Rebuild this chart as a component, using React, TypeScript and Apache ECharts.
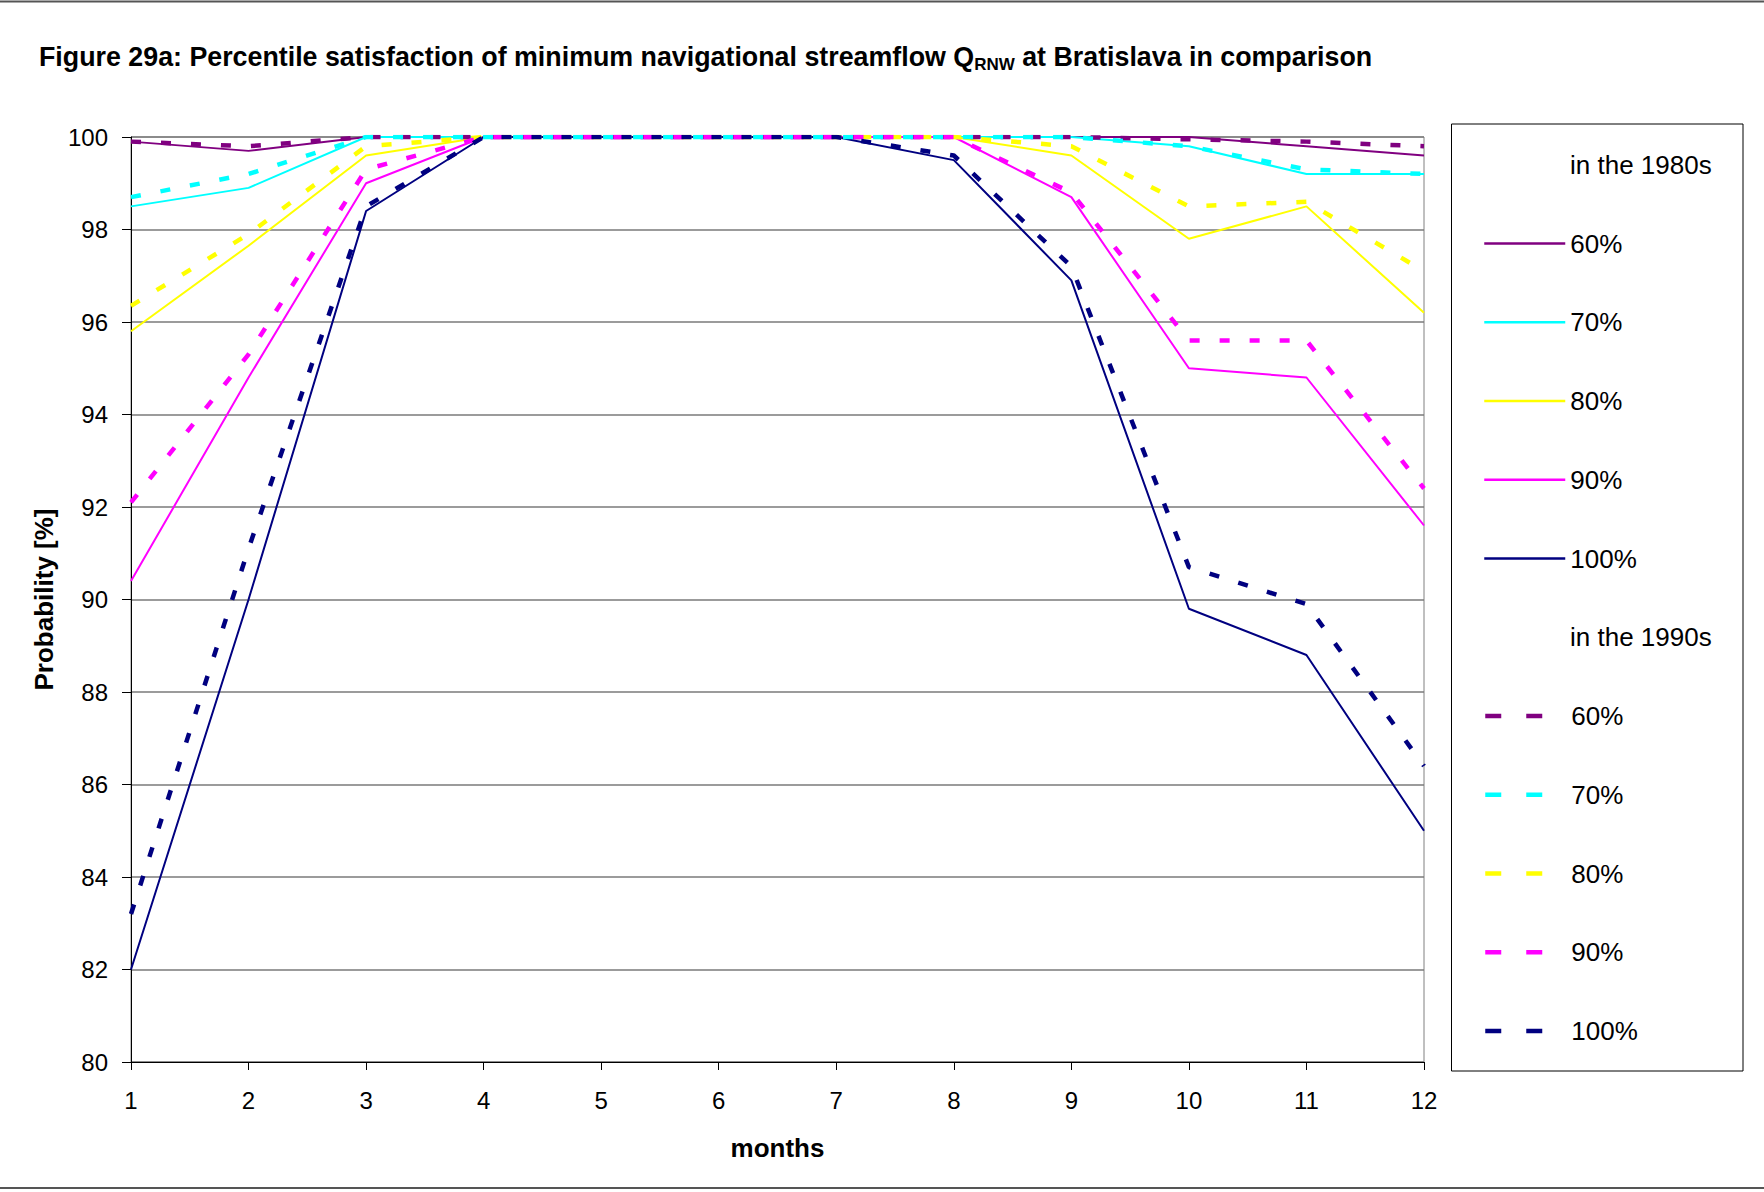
import React, { useEffect, useRef } from "react";
import * as echarts from "echarts";

const months = [1, 2, 3, 4, 5, 6, 7, 8, 9, 10, 11, 12];
const yTicks = { min: 80, max: 100, interval: 2 };

// 1980s (solid lines)
const s80_60 = [99.9, 99.7, 100, 100, 100, 100, 100, 100, 100, 100, 99.8, 99.6];
const s80_70 = [98.5, 98.9, 100, 100, 100, 100, 100, 100, 100, 99.8, 99.2, 99.2];
const s80_80 = [95.8, 97.65, 99.6, 100, 100, 100, 100, 100, 99.6, 97.8, 98.5, 96.2];
const s80_90 = [90.4, 94.8, 99.0, 100, 100, 100, 100, 100, 98.7, 95.0, 94.8, 91.6];
const s80_100 = [82.0, 90.0, 98.4, 100, 100, 100, 100, 99.5, 96.9, 89.8, 88.8, 85.0];

// 1990s (dashed lines)
const s90_60 = [99.9, 99.8, 100, 100, 100, 100, 100, 100, 100, 99.95, 99.9, 99.8];
const s90_70 = [98.7, 99.2, 100, 100, 100, 100, 100, 100, 100, 99.8, 99.3, 99.2];
const s90_80 = [96.35, 97.9, 99.8, 100, 100, 100, 100, 100, 99.8, 98.5, 98.6, 97.1];
const s90_90 = [92.1, 95.3, 99.3, 100, 100, 100, 100, 100, 98.8, 95.6, 95.6, 92.4];
const s90_100 = [83.2, 91.1, 98.5, 100, 100, 100, 100, 99.6, 97.2, 90.7, 89.9, 86.4];

const labels = ["60%", "70%", "80%", "90%", "100%"];
const colors = ["#800080", "#00FFFF", "#FFFF00", "#FF00FF", "#000080"];
const data80s = [s80_60, s80_70, s80_80, s80_90, s80_100];
const data90s = [s90_60, s90_70, s90_80, s90_90, s90_100];

const FONT = "'Liberation Sans', Arial, sans-serif";

export default function App() {
  const ref = useRef<HTMLDivElement>(null);
  useEffect(() => {
    document.body.style.margin = "0";
    if (!ref.current) return;
    const chart = echarts.init(ref.current, null, { renderer: "svg" });

    const mk = (vals: number[]) => vals.map((v, i) => [months[i], v]);
    const series: any[] = [];
    labels.forEach((l, i) => {
      series.push({
        name: l + " 1980s",
        type: "line",
        data: mk(data80s[i]),
        symbol: "none",
        color: colors[i],
        lineStyle: { color: colors[i], width: 2, type: "solid" },
        z: 2,
      });
    });
    labels.forEach((l, i) => {
      series.push({
        name: l + " 1990s",
        type: "line",
        data: mk(data90s[i]),
        symbol: "none",
        color: colors[i],
        lineStyle: { color: colors[i], width: 4.5, type: [10, 20] },
        z: 3,
      });
    });

    const legendCommon = {
      orient: "vertical",
      left: 1478,
      itemWidth: 81,
      itemHeight: 26,
      itemGap: 52.75,
      itemStyle: { opacity: 0 },
      formatter: (n: string) => n.split(" ")[0],
      textStyle: { fontSize: 26, lineHeight: 26, color: "#000", fontFamily: FONT },
      selectedMode: false,
    };

    chart.setOption({
      animation: false,
      backgroundColor: "#fff",
      textStyle: { fontFamily: FONT },
      grid: {
        left: 131,
        right: 340,
        top: 137,
        bottom: 130,
        show: true,
        borderColor: "#808080",
        borderWidth: 1,
      },
      xAxis: {
        type: "value",
        min: 1,
        max: 12,
        interval: 1,
        name: "months",
        nameLocation: "middle",
        nameGap: 73,
        nameTextStyle: { fontSize: 26, fontWeight: "bold", color: "#000", fontFamily: FONT },
        axisLine: { show: true, lineStyle: { color: "#000", width: 1 } },
        axisTick: { show: true, length: 8, lineStyle: { color: "#000" } },
        axisLabel: { fontSize: 24, color: "#000", margin: 26, fontFamily: FONT },
        splitLine: { show: false },
      },
      yAxis: {
        type: "value",
        min: yTicks.min,
        max: yTicks.max,
        interval: yTicks.interval,
        name: "Probability [%]",
        nameLocation: "middle",
        nameGap: 66,
        nameTextStyle: { fontSize: 26, fontWeight: "bold", color: "#000", fontFamily: FONT },
        axisLine: { show: true, lineStyle: { color: "#000", width: 1 } },
        axisTick: { show: true, length: 9, lineStyle: { color: "#000" } },
        axisLabel: { fontSize: 24, color: "#000", margin: 23, fontFamily: FONT },
        splitLine: { show: true, lineStyle: { color: "#7a7a7a", width: 1.5 } },
      },
      legend: [
        {
          ...legendCommon,
          top: 225.5,
          lineStyle: { width: 2.5 },
          data: labels.map((l) => l + " 1980s"),
        },
        {
          ...legendCommon,
          top: 698,
          lineStyle: { width: 4.5, type: [16, 25] },
          data: labels.map((l) => l + " 1990s"),
        },
      ],
      graphic: [
        { type: "line", shape: { x1: 0, y1: 1.5, x2: 1764, y2: 1.5 }, style: { stroke: "#555", lineWidth: 2 } },
        { type: "line", shape: { x1: 0, y1: 1188, x2: 1764, y2: 1188 }, style: { stroke: "#555", lineWidth: 2 } },
        {
          type: "rect",
          shape: { x: 1451.5, y: 124, width: 291.5, height: 947 },
          style: { fill: "none", stroke: "#000", lineWidth: 1 },
          z: -1,
        },
        {
          type: "text",
          x: 39,
          y: 57,
          style: {
            text: "{b|Figure 29a: Percentile satisfaction of minimum navigational streamflow Q}{s|RNW}{b| at Bratislava in comparison}",
            verticalAlign: "middle",
            rich: {
              b: { fontSize: 26.8, fontWeight: "bold", fontFamily: FONT, fill: "#000", lineHeight: 32 },
              s: { fontSize: 17, fontWeight: "bold", fontFamily: FONT, fill: "#000", lineHeight: 20, verticalAlign: "bottom" },
            },
          },
        },
        {
          type: "text",
          x: 1570,
          y: 165,
          style: { text: "in the 1980s", fontSize: 26, fontFamily: FONT, fill: "#000", verticalAlign: "middle" },
        },
        {
          type: "text",
          x: 1570,
          y: 637,
          style: { text: "in the 1990s", fontSize: 26, fontFamily: FONT, fill: "#000", verticalAlign: "middle" },
        },
      ],
      series,
    });
    return () => chart.dispose();
  }, []);
  return <div ref={ref} style={{ width: 1764, height: 1192 }} />;
}
